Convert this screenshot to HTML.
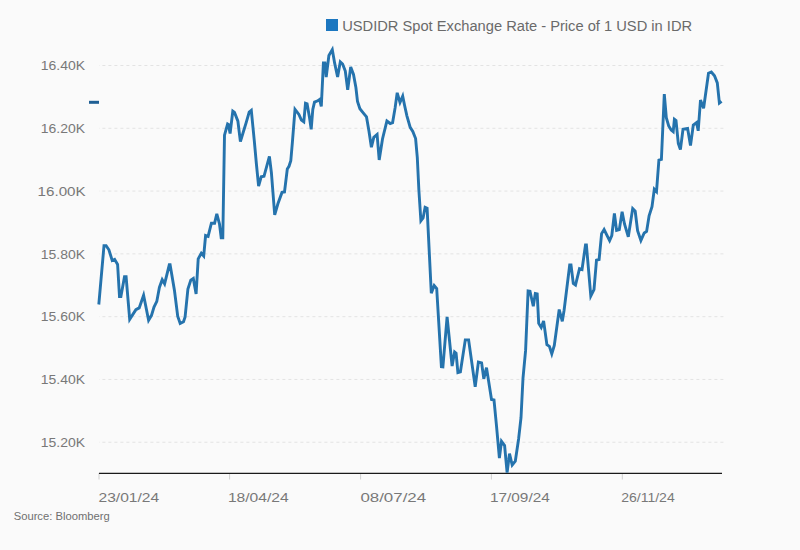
<!DOCTYPE html>
<html><head><meta charset="utf-8"><style>
html,body{margin:0;padding:0;background:#fafafa;}
svg{display:block;}
text{font-family:"Liberation Sans",sans-serif;}
.g{stroke:#e3e3e3;stroke-width:1;stroke-dasharray:3,3;stroke-dashoffset:2.6;}
.tk{stroke:#d0d0d0;stroke-width:1;}
</style></head><body>
<svg width="800" height="550" viewBox="0 0 800 550">
<rect width="800" height="550" fill="#fafafa"/>
<line x1="99" x2="724" y1="65.5" y2="65.5" class="g"/>
<line x1="99" x2="724" y1="128.29" y2="128.29" class="g"/>
<line x1="99" x2="724" y1="191.08" y2="191.08" class="g"/>
<line x1="99" x2="724" y1="253.87" y2="253.87" class="g"/>
<line x1="99" x2="724" y1="316.66" y2="316.66" class="g"/>
<line x1="99" x2="724" y1="379.45" y2="379.45" class="g"/>
<line x1="99" x2="724" y1="442.24" y2="442.24" class="g"/>
<text x="40.74" y="70.2" textLength="44.31" lengthAdjust="spacingAndGlyphs" style="font-size:12.5px;fill:#787878">16.40K</text>
<text x="40.74" y="133.0" textLength="44.31" lengthAdjust="spacingAndGlyphs" style="font-size:12.5px;fill:#787878">16.20K</text>
<text x="37.55" y="195.8" textLength="48.07" lengthAdjust="spacingAndGlyphs" style="font-size:12.5px;fill:#787878">16.00K</text>
<text x="40.74" y="258.6" textLength="44.31" lengthAdjust="spacingAndGlyphs" style="font-size:12.5px;fill:#787878">15.80K</text>
<text x="40.74" y="321.4" textLength="44.31" lengthAdjust="spacingAndGlyphs" style="font-size:12.5px;fill:#787878">15.60K</text>
<text x="40.74" y="384.1" textLength="44.31" lengthAdjust="spacingAndGlyphs" style="font-size:12.5px;fill:#787878">15.40K</text>
<text x="40.74" y="446.9" textLength="44.31" lengthAdjust="spacingAndGlyphs" style="font-size:12.5px;fill:#787878">15.20K</text>
<line x1="99" x2="99" y1="473" y2="479.5" class="tk"/>
<line x1="229.6" x2="229.6" y1="473" y2="479.5" class="tk"/>
<line x1="360.6" x2="360.6" y1="473" y2="479.5" class="tk"/>
<line x1="491.4" x2="491.4" y1="473" y2="479.5" class="tk"/>
<line x1="622.3" x2="622.3" y1="473" y2="479.5" class="tk"/>
<line x1="99" x2="722" y1="473.4" y2="473.4" stroke="#1a1a1a" stroke-width="1.2"/>
<text x="98.47" y="502" textLength="60.66" lengthAdjust="spacingAndGlyphs" style="font-size:12.5px;fill:#787878">23/01/24</text>
<text x="227.90" y="502" textLength="60.85" lengthAdjust="spacingAndGlyphs" style="font-size:12.5px;fill:#787878">18/04/24</text>
<text x="360.45" y="502" textLength="65.65" lengthAdjust="spacingAndGlyphs" style="font-size:12.5px;fill:#787878">08/07/24</text>
<text x="489.92" y="502" textLength="59.87" lengthAdjust="spacingAndGlyphs" style="font-size:12.5px;fill:#787878">17/09/24</text>
<text x="621.16" y="502" textLength="53.56" lengthAdjust="spacingAndGlyphs" style="font-size:12.5px;fill:#787878">26/11/24</text>
<rect x="326" y="19" width="12" height="12" fill="#1c77c0"/>
<text x="342.17" y="30.6" textLength="349.95" lengthAdjust="spacingAndGlyphs" style="font-size:14px;fill:#6a6a6a">USDIDR Spot Exchange Rate - Price of 1 USD in IDR</text>
<text x="13.66" y="520" textLength="96.11" lengthAdjust="spacingAndGlyphs" style="font-size:10.5px;fill:#707070">Source: Bloomberg</text>
<rect x="89" y="100.8" width="10" height="3" fill="#1f5f94"/>
<polyline points="98.8,304.5 104,245.7 106.1,245.7 108.9,249.8 112.2,260.5 114.6,259.3 117.6,264.5 119.5,296.5 120.9,296.5 124.5,276.8 126.1,276.8 129.7,319.4 135.9,309.6 139.2,307.9 143.6,295.2 148.6,320.2 151.5,315.3 154,307.1 156.8,301.4 159.4,287.5 162.2,279.6 164.6,283.8 169.3,264.8 170.1,264.8 174.5,290.7 177.7,316.1 180.2,323.4 183.5,321.8 185.1,316.9 187.9,289.1 190.8,280.1 193.3,278.5 196.1,294 198.2,258.8 201.3,253.3 203.7,256 205.6,235.5 208.1,236.3 211.4,223.2 214.6,223.2 216.8,213.9 219.5,224 221.2,237.9 222.8,237.9 224.5,135.1 227.6,124 228.4,124.5 230.1,133.5 232.8,111.2 234.5,112.5 237.9,121.2 240.4,141.6 243.6,131 246.1,122.8 249.2,112 251.3,110.3 254.3,140.8 256.5,165 258.6,186.2 261.2,176.8 264,176.3 269.4,156.4 271.4,172.7 274.7,214.8 277.9,203.8 282,192.4 284.5,192 287.3,169 289,166.3 290.8,160.8 292.4,142.2 295,109.3 298.9,114.4 301.4,120.1 303.8,121.8 305.5,103.3 307.1,103.9 309.5,117.6 311.2,129.4 312.8,109.5 314.5,102.1 317.7,100.8 319.6,99.4 321.3,106.5 323.4,62.9 324.9,62.9 326.2,77 328.9,55.5 332.3,49.6 334.6,62.9 337.6,77 340.3,61.8 342.6,64 345.3,71.1 347.7,89.9 350.7,67 353.5,74.4 355.9,87.5 357.5,101.4 359.9,108.7 363.2,112.8 366.5,116.9 368.9,130.8 371.4,147.2 373.8,137.4 377.1,134.5 379.2,160 382.5,139 386.9,121 390.2,123.5 392.6,122.6 395.1,107.9 397.2,92.8 400,102.5 402.7,96.2 404.6,105.5 406.9,115.8 410.2,127.3 412.8,131.5 415.6,138.5 417.3,157.7 418.9,190.5 420.9,220.8 423.1,218 425.1,207.3 427.1,208.2 431.3,293.3 434.2,285.5 436.7,288.5 441.4,366.7 442.9,366.9 447.1,316.8 452.1,366 454.6,352 456.1,353.3 457.9,372.6 460.4,371.8 465.3,339.9 468.6,339.9 475.2,386.8 478.4,362 481.6,362.8 483.8,378.8 486.5,367.6 491.5,399.5 494,400 496.5,425.9 499.4,458 501.5,441.3 504.6,445.6 507.1,472.6 509.5,453.7 512.2,465 515.3,461.1 518.6,439 521,417.7 523,378 525.6,350.4 528.1,291 530,291.3 533.3,306.2 535.3,293.5 537.2,294 538.7,323.4 541.2,327.5 543.6,320.9 546.9,344.6 549.4,346.3 551.8,353.8 554.3,345.5 559.2,309.5 562.3,321.3 564.1,310.3 569.7,265 571,265 573.3,283.5 575.5,285.1 579.5,268.7 582,269.6 585.5,245 586.4,245 590.8,296 594,289.6 596.5,260.2 599.1,259.5 601.6,233.6 604.1,229.5 609.6,240.6 611.8,235.5 614.4,213.4 616.6,230.5 619.3,229.7 622.1,211.7 624.5,224 628.3,236.8 632.7,208.6 635.2,211.2 637.6,230.6 640.9,240.4 644.2,233 646.6,231.4 649.1,215.8 652,206.8 654.3,189.2 656.5,191.6 658.9,160.2 661.4,159.5 664.3,94 666.3,117.7 668.7,125.9 671.2,130 673.2,131.6 674.4,119.3 676,120.5 678.3,143.5 680.4,149.6 683,129.2 687.6,128.4 690.5,145.6 693.3,125.1 696.6,122.6 698.2,130.8 700.5,100 703.6,108.3 708.5,73.2 711.3,72 714.5,75.8 717.3,82.9 719.4,103.1 721.6,101.4" fill="none" stroke="#2573ad" stroke-width="2.9" stroke-linejoin="miter" stroke-miterlimit="4"/>
</svg>
</body></html>
